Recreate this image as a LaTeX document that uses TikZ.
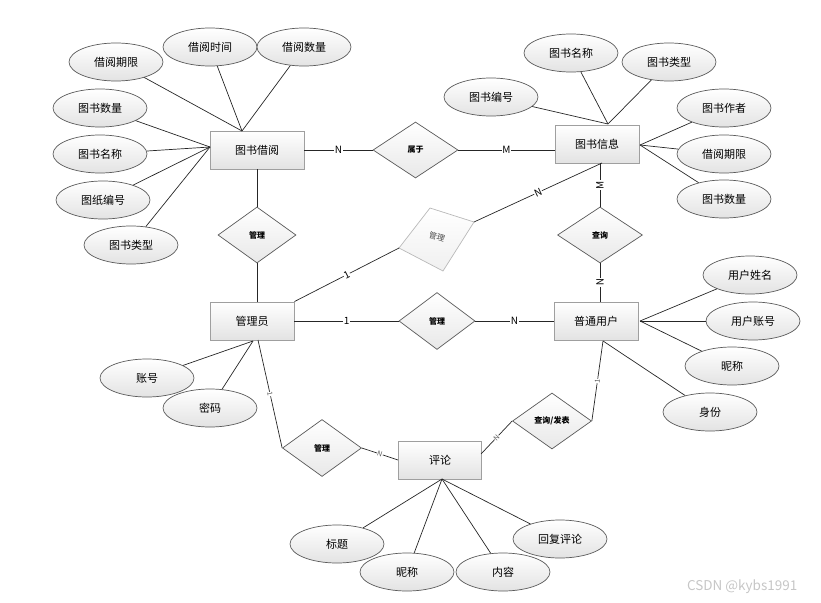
\documentclass[tikz,border=0pt]{standalone}
\usepackage{fontspec}
\newfontfamily\cjk{Noto Sans CJK SC}
\usetikzlibrary{shapes.geometric}

\begin{document}
\begin{tikzpicture}[x=1pt,y=-1pt,line width=.7pt,
  ent/.style={draw=gray!75,line width=.9pt,top color=white,bottom color=gray!22,minimum width=84pt,minimum height=38pt,inner sep=0pt,font=\cjk\fontsize{11}{13}\selectfont},
  attr/.style={ellipse,draw=gray!70!black,top color=white,bottom color=gray!22,minimum width=94pt,minimum height=38pt,inner sep=0pt,font=\cjk\fontsize{11}{13}\selectfont},
  rel/.style={diamond,draw=gray!70!black,top color=white,bottom color=gray!18,minimum width=79pt,minimum height=56pt,inner sep=0pt,font=\cjk\fontsize{8}{10}\selectfont\bfseries},
  lk/.style={draw=gray!30!black},
  lab/.style={fill=white,inner sep=.5pt,font=\cjk\fontsize{10}{12}\selectfont},
  slab/.style={fill=white,inner sep=.3pt,sloped,text=gray!70!black,font=\cjk\fontsize{7}{8}\selectfont}]
\useasboundingbox (0,0) rectangle (821,602);
% entities
\node[ent,minimum width=94pt](jy) at (257,150){图书借阅};
\node[ent](xx) at (597,144){图书信息};
\node[ent](gly) at (252,321){管理员};
\node[ent](yh) at (596,321){普通用户};
\node[ent,minimum width=83pt](pl) at (440,460){评论};
% relations
\node[rel,minimum width=85pt](sy) at (415.5,150){属于};
\node[rel,minimum width=78pt](gl1) at (257,235){管理};
\node[rel,minimum width=85pt](cx) at (600,235){查询};
\node[rel,minimum width=76pt,minimum height=57pt](gl2) at (437,321){管理};
\node[rel,minimum height=57pt](gl3) at (322,448){管理};
\node[rel](fb) at (552,421){查询/发表};
% the grey, tilted one
\coordinate(gdt) at (430,208);
\coordinate(gdr) at (474,222);
\coordinate(gdb) at (443,271);
\coordinate(gdl) at (399,248);
\draw[gray!55,top color=white,bottom color=gray!12](gdt)--(gdr)--(gdb)--(gdl)--cycle;
\node[text=gray!60!black,rotate=-18,inner sep=0pt,font=\cjk\fontsize{8}{10}\selectfont](gl4) at (437,237){管理};
% attributes
\node[attr](a1) at (116,62){借阅期限};
\node[attr](a2) at (210,47){借阅时间};
\node[attr](a3) at (304,47){借阅数量};
\node[attr](a4) at (100,108){图书数量};
\node[attr](a5) at (100,154){图书名称};
\node[attr](a6) at (103,200){图纸编号};
\node[attr](a7) at (131,245){图书类型};
\node[attr](b1) at (571,53){图书名称};
\node[attr](b2) at (669,62){图书类型};
\node[attr](b3) at (491,97){图书编号};
\node[attr](b4) at (724,108){图书作者};
\node[attr](b5) at (724,154){借阅期限};
\node[attr](b6) at (724,199){图书数量};
\node[attr](c1) at (750,275){用户姓名};
\node[attr](c2) at (753,321){用户账号};
\node[attr](c3) at (732,366){昵称};
\node[attr](c4) at (710,412){身份};
\node[attr](d1) at (147,378){账号};
\node[attr](d2) at (210,408){密码};
\node[attr](e1) at (337,544){标题};
\node[attr](e2) at (407,572){昵称};
\node[attr](e3) at (503,572){内容};
\node[attr](e4) at (560,539){回复评论};
% where the lines meet the boxes
\coordinate(jt) at (242,131);
\coordinate(jl) at (210,147);
\coordinate(xt) at (608,124);
\coordinate(xr) at (640,145);
\coordinate(xb) at (602,163);
\coordinate(yr) at (640,321);
\coordinate(yb) at (603,341);
\coordinate(gb) at (253,341);
\coordinate(gb2) at (258,340);
\coordinate(pb) at (442,479);
\coordinate(pe) at (481,454);
\foreach \a in {a1,a2,a3} \draw[lk](\a)--(jt);
\foreach \a in {a4,a5,a6,a7} \draw[lk](\a)--(jl);
\foreach \a in {b1,b2,b3} \draw[lk](\a)--(xt);
\foreach \a in {b4,b5,b6} \draw[lk](\a)--(xr);
\foreach \a in {c1,c2,c3} \draw[lk](\a)--(yr);
\draw[lk](c4)--(yb);
\foreach \a in {d1,d2} \draw[lk](\a)--(gb);
\foreach \a in {e1,e2,e3,e4} \draw[lk](\a)--(pb);
% relationships
\draw[lk](jy)--node[lab]{N}(sy);
\draw[lk](sy.east)--node[lab]{M}(sy.east -| xx.west);
\draw[lk](jy)--(gl1);
\draw[lk](gl1.south)--(gl1.south |- gly.north);
\draw[lk](gly.north east)--node[lab,sloped]{1}(gdl);
\draw[lk](gdr)--node[lab,sloped]{N}(xb);
\draw[lk](cx.north)--node[lab,sloped]{M}(cx.north |- xx.south);
\draw[lk](cx.south)--node[lab,sloped]{N}(cx.south |- yh.north);
\draw[lk](gly)--node[lab]{1}(gl2);
\draw[lk](gl2)--node[lab]{N}(yh);
\draw[lk](gb2)--node[slab]{1}(gl3.west);
\draw[lk](gl3.east)--node[slab]{N}(pl.west);
\draw[lk](yb)--node[slab]{1}(fb.east);
\draw[lk](fb.west)--node[slab]{N}(pe);
\node[text=gray!45,anchor=east,font=\cjk\fontsize{13.5}{15}\selectfont](wm) at (801,587){CSDN @kybs1991};
\end{tikzpicture}
\end{document}
